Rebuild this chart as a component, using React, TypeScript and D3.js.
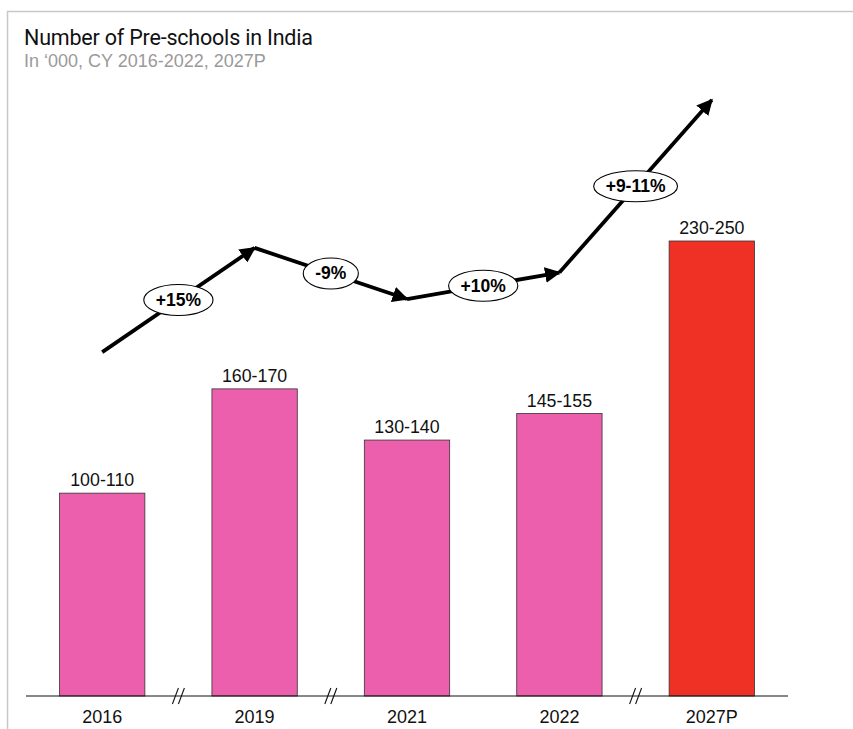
import { useEffect, useRef } from "react";
import * as d3 from "d3";

const years = ["2016", "2019", "2021", "2022", "2027P"];
const values = [107, 162, 135, 149, 240];
const valueLabels = ["100-110", "160-170", "130-140", "145-155", "230-250"];
const growthLabels = ["+15%", "-9%", "+10%", "+9-11%"];
// axis breaks after these categories
const breakAfter = ["2016", "2019", "2022"];

const W = 853;
const H = 729;
const PINK = "#ec5fac";
const RED = "#ee3124";
const FONT = "'Liberation Sans', Arial, sans-serif";

export default function App() {
  const svgRef = useRef<SVGSVGElement>(null);

  useEffect(() => {
    if (!svgRef.current) return;
    const svg = d3.select(svgRef.current);
    svg.selectAll("*").remove();

    const baseY = 696;

    // frame
    svg.append("line").attr("x1", 7).attr("x2", W).attr("y1", 11.5).attr("y2", 11.5)
      .attr("stroke", "#c8c8c8").attr("stroke-width", 1.5);
    svg.append("line").attr("x1", 7.5).attr("x2", 7.5).attr("y1", 11).attr("y2", H)
      .attr("stroke", "#c8c8c8").attr("stroke-width", 1.5);

    svg.append("text").attr("x", 24).attr("y", 45)
      .attr("font-family", "Roboto, 'Noto Sans', sans-serif").attr("font-size", 21.5)
      .attr("letter-spacing", -0.2)
      .attr("fill", "#111").text("Number of Pre-schools in India");
    svg.append("text").attr("x", 24).attr("y", 67)
      .attr("font-family", FONT).attr("font-size", 18)
      .attr("fill", "#9a9a9a").text("In \u2018000, CY 2016-2022, 2027P");

    const x = d3.scaleBand<string>().domain(years).range([26, 788])
      .paddingInner(0.44).paddingOuter(0.22);
    const y = d3.scaleLinear().domain([0, 240]).range([baseY, 241]);

    const defs = svg.append("defs");
    defs.append("marker").attr("id", "arrow").attr("viewBox", "0 0 10 10")
      .attr("refX", 9).attr("refY", 5).attr("markerWidth", 4.2).attr("markerHeight", 4.2)
      .attr("markerUnits", "strokeWidth").attr("orient", "auto")
      .append("path").attr("d", "M0,0 L10,5 L0,10 z").attr("fill", "#000");

    // bars
    svg.append("g").selectAll("rect").data(values).join("rect")
      .attr("x", (_, i) => x(years[i])!)
      .attr("y", (d) => y(d))
      .attr("width", x.bandwidth())
      .attr("height", (d) => baseY - y(d))
      .attr("fill", (_, i) => (i === years.length - 1 ? RED : PINK))
      .attr("stroke", "#333").attr("stroke-width", 0.8);

    // value labels
    svg.append("g").selectAll("text").data(valueLabels).join("text")
      .attr("x", (_, i) => x(years[i])! + x.bandwidth() / 2)
      .attr("y", (_, i) => y(values[i]) - 7)
      .attr("text-anchor", "middle").attr("font-family", FONT).attr("font-size", 17.8)
      .attr("fill", "#111").text((d) => d);

    // baseline
    svg.append("line").attr("x1", 26).attr("x2", 788).attr("y1", baseY).attr("y2", baseY)
      .attr("stroke", "#111").attr("stroke-width", 1.2);

    // break marks
    const brk = svg.append("g");
    breakAfter.forEach((yr) => {
      const i = years.indexOf(yr);
      const cx = (x(years[i])! + x(years[i + 1])!) / 2 + x.bandwidth() / 2;
      [-3, 3].forEach((dx) => {
        brk.append("line")
          .attr("x1", cx + dx - 3).attr("y1", baseY + 8)
          .attr("x2", cx + dx + 3).attr("y2", baseY - 8)
          .attr("stroke", "#111").attr("stroke-width", 1.1);
      });
    });

    // x labels
    svg.append("g").selectAll("text").data(years).join("text")
      .attr("x", (d) => x(d)! + x.bandwidth() / 2)
      .attr("y", 723)
      .attr("text-anchor", "middle").attr("font-family", FONT).attr("font-size", 18)
      .attr("fill", "#111").text((d) => d);

    // trend arrows, offset above bar tops
    const offset = 141;
    const pts = values.map((v, i) => [x(years[i])! + x.bandwidth() / 2, y(v) - offset] as [number, number]);
    const segs = d3.pairs(pts);
    const trend = svg.append("g");
    segs.forEach(([a, b], i) => {
      trend.append("line")
        .attr("x1", a[0]).attr("y1", a[1]).attr("x2", b[0]).attr("y2", b[1])
        .attr("stroke", "#000").attr("stroke-width", 3.8)
        .attr("marker-end", "url(#arrow)");
      const mx = (a[0] + b[0]) / 2;
      const my = (a[1] + b[1]) / 2;
      const label = growthLabels[i];
      const el = trend.append("ellipse").attr("cx", mx).attr("cy", my).attr("ry", 15.5)
        .attr("fill", "#fff").attr("stroke", "#000").attr("stroke-width", 1.1);
      const t = trend.append("text").attr("x", mx).attr("y", my + 6)
        .attr("text-anchor", "middle").attr("font-family", FONT).attr("font-size", 17.5)
        .attr("font-weight", "bold").attr("fill", "#000").text(label);
      const tw = (t.node() as SVGTextElement).getComputedTextLength();
      el.attr("rx", tw / 2 + 12);
    });
  }, []);

  return (
    <div style={{ position: "absolute", left: 0, top: 0 }}>
      <svg ref={svgRef} width={W} height={H} style={{ display: "block", background: "#fff" }} />
    </div>
  );
}
